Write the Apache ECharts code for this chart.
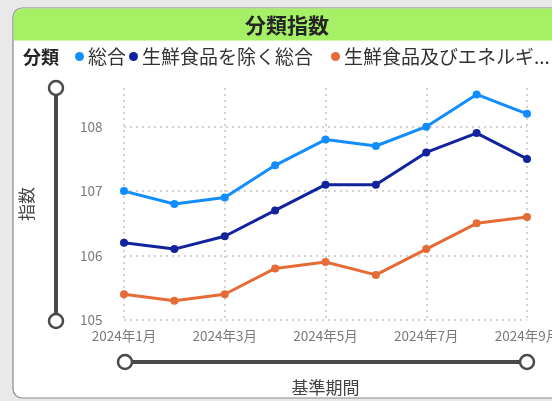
<!DOCTYPE html>
<html>
<head>
<meta charset="utf-8">
<script src="https://cdn.jsdelivr.net/npm/echarts@6/dist/echarts.min.js"></script>
<style>
html,body{margin:0;padding:0;background:#e9e9e9;}
#c{width:552px;height:401px;}
</style>
</head>
<body>
<div id="c"></div>
<script>
var months = ['2024年1月','2024年2月','2024年3月','2024年4月','2024年5月','2024年6月','2024年7月','2024年8月','2024年9月'];
var seriesNames = ['総合','生鮮食品を除く総合','生鮮食品及びエネルギーを除く総合'];
var sogo = [107.0, 106.8, 106.9, 107.4, 107.8, 107.7, 108.0, 108.5, 108.2];
var excFresh = [106.2, 106.1, 106.3, 106.7, 107.1, 107.1, 107.6, 107.9, 107.5];
var excFreshEnergy = [105.4, 105.3, 105.4, 105.8, 105.9, 105.7, 106.1, 106.5, 106.6];
var yTicks = [105, 106, 107, 108];
var colors = ['#118DFF', '#12239E', '#E66C37'];

var FONT = '"Noto Sans CJK JP", "Noto Sans", sans-serif';
var chart = echarts.init(document.getElementById('c'), null, {renderer: 'canvas'});

function mkSeries(name, data, color, extra) {
  var s = {
    name: name, type: 'line', data: data,
    symbol: 'circle', symbolSize: 8,
    lineStyle: {width: 3, color: color},
    itemStyle: {color: color},
    z: 5
  };
  if (extra) Object.assign(s, extra);
  return s;
}

var legendLefts = [75, 129, 331];
var legends = seriesNames.map(function (n, i) {
  return {
    data: [n], left: legendLefts[i], top: 47,
    icon: 'circle', itemWidth: 9, itemHeight: 9,
    padding: 0,
    textStyle: {fontSize: 19, color: '#333', fontFamily: FONT, padding: [0, 0, 0, -1]},
    formatter: function (s) { return s.length > 10 ? s.slice(0, 10) + '...' : s; }
  };
});

var option = {
  animation: false,
  textStyle: {fontFamily: FONT},
  graphic: [
    {type: 'rect', z: -10, shape: {x: 13, y: 8, width: 560, height: 390, r: 9},
     style: {fill: '#ffffff', stroke: '#8c8c8c', lineWidth: 1.2}},
    {type: 'rect', z: -9, shape: {x: 13.6, y: 8.6, width: 560, height: 32, r: [9, 0, 0, 0]},
     style: {fill: '#a5f064'}},
    {type: 'text', z: 10, style: {text: '分類指数', x: 287, y: 25, align: 'center', verticalAlign: 'middle',
      font: 'bold 21px ' + FONT, fill: '#252525'}},
    {type: 'text', z: 10, style: {text: '分類', x: 23, y: 57, verticalAlign: 'middle',
      font: 'bold 18px ' + FONT, fill: '#252525'}},
    {type: 'line', z: 10, shape: {x1: 56, y1: 88, x2: 56, y2: 321}, style: {stroke: '#4a4a4a', lineWidth: 4}},
    {type: 'circle', z: 11, shape: {cx: 56, cy: 88, r: 7}, style: {fill: '#fff', stroke: '#4a4a4a', lineWidth: 2.5}},
    {type: 'circle', z: 11, shape: {cx: 56, cy: 321, r: 7}, style: {fill: '#fff', stroke: '#4a4a4a', lineWidth: 2.5}},
    {type: 'line', z: 10, shape: {x1: 125, y1: 362, x2: 527, y2: 362}, style: {stroke: '#4a4a4a', lineWidth: 4}},
    {type: 'circle', z: 11, shape: {cx: 125, cy: 362, r: 7}, style: {fill: '#fff', stroke: '#4a4a4a', lineWidth: 2.5}},
    {type: 'circle', z: 11, shape: {cx: 527, cy: 362, r: 7}, style: {fill: '#fff', stroke: '#4a4a4a', lineWidth: 2.5}}
  ],
  legend: legends,
  grid: {left: 124, right: 25, top: 88, bottom: 81, outerBoundsMode: 'none', containLabel: false},
  xAxis: {
    type: 'category', data: months, boundaryGap: false,
    name: '基準期間', nameLocation: 'middle', nameGap: 59,
    nameTextStyle: {fontSize: 17, color: '#444', fontFamily: FONT},
    axisLine: {show: false}, axisTick: {show: false},
    axisLabel: {interval: 1, fontSize: 13.5, color: '#7a7a7a', margin: 9, fontFamily: FONT, hideOverlap: false},
    splitLine: {show: true, interval: 1, lineStyle: {type: [2, 4], color: '#c4c4c4', width: 1.5}}
  },
  yAxis: {
    type: 'value', min: 105, max: 108.6, interval: 1,
    name: '指数', nameLocation: 'middle', nameGap: 89, nameRotate: 90,
    nameTextStyle: {fontSize: 17, color: '#444', fontFamily: FONT},
    axisLine: {show: false}, axisTick: {show: false},
    axisLabel: {fontSize: 13.5, color: '#7a7a7a', margin: 22, align: 'left', showMaxLabel: false,
      padding: [0, 0, 0, -22], fontFamily: FONT,
      formatter: function (v) { return yTicks.indexOf(v) >= 0 ? String(v) : ''; }},
    splitLine: {show: false}
  },
  series: [
    mkSeries(seriesNames[0], sogo, colors[0], {
      markLine: {
        silent: true, symbol: 'none', label: {show: false},
        lineStyle: {type: [2, 4], color: '#c4c4c4', width: 1.5},
        data: yTicks.map(function (v) { return {yAxis: v}; }),
        z: 1
      }
    }),
    mkSeries(seriesNames[1], excFresh, colors[1]),
    mkSeries(seriesNames[2], excFreshEnergy, colors[2])
  ]
};
chart.setOption(option);
</script>
</body>
</html>
